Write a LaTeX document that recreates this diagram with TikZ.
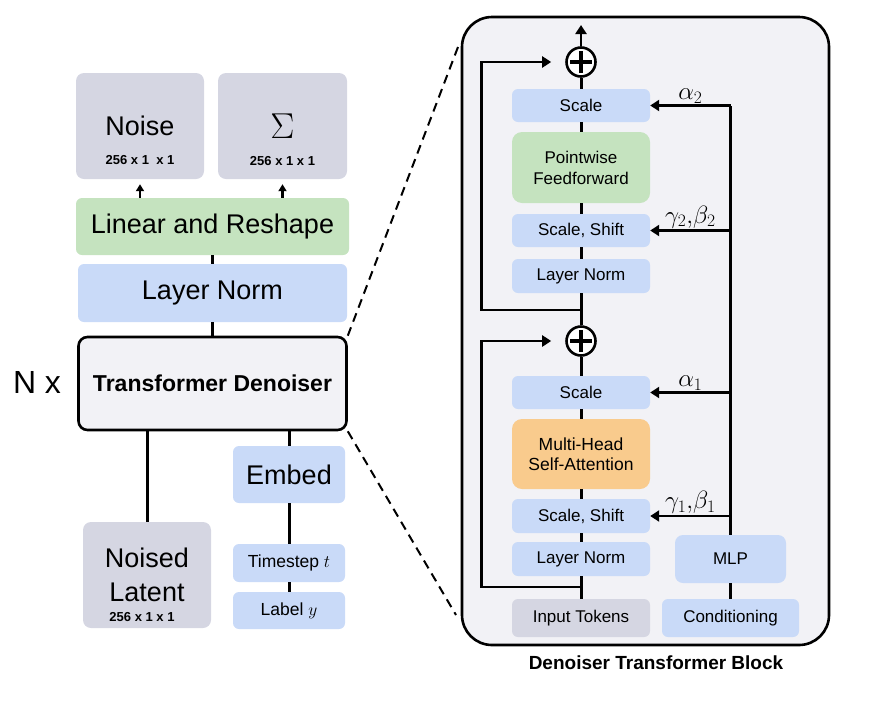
\RequirePackage{fix-cm}
\documentclass[tikz,border=0pt]{standalone}
\usepackage{fontspec}
\setmainfont{Liberation Sans}
\usepackage{tikz}
\usetikzlibrary{calc,positioning,arrows.meta,shapes}
\definecolor{graybox}{RGB}{213,214,226}
\definecolor{greenbox}{RGB}{197,227,191}
\definecolor{bluebox}{RGB}{201,218,248}
\definecolor{orangebox}{RGB}{249,203,141}
\definecolor{panelbg}{RGB}{242,242,246}
\tikzset{
  gbox/.style={rectangle, fill=graybox, rounded corners=8pt, inner sep=0pt},
  grbox/.style={rectangle, fill=greenbox, rounded corners=6pt, inner sep=0pt},
  blbox/.style={rectangle, fill=bluebox, rounded corners=6pt, inner sep=0pt},
  orbox/.style={rectangle, fill=orangebox, rounded corners=10pt, inner sep=0pt},
  bigtxt/.style={font=\fontsize{27}{34}\selectfont, align=center},
  smtxt/.style={font=\fontsize{17}{21}\selectfont, align=center},
  dims/.style={font=\bfseries\fontsize{13}{15}\selectfont, inner sep=0pt},
  mathlab/.style={font=\fontsize{25}{28}\selectfont, inner sep=1pt},
  colw/.style={minimum width=138pt},
  conn/.style={draw, line width=3pt},
  arr/.style={draw, line width=2.8pt, -{Triangle[length=9pt,width=11pt]}},
  smarr/.style={draw, line width=2.2pt, -{Triangle[length=7pt,width=8pt]}},
  dashline/.style={draw, line width=2pt, dash pattern=on 9pt off 6pt},
  plus/.style={circle, draw, line width=2.6pt, fill=white, minimum size=29pt, inner sep=0pt,
    path picture={\draw[line width=3.2pt]
      ([xshift=-11pt]path picture bounding box.center) -- ([xshift=11pt]path picture bounding box.center)
      ([yshift=-11pt]path picture bounding box.center) -- ([yshift=11pt]path picture bounding box.center);}},
}
\begin{document}
\begin{tikzpicture}[x=1pt, y=-1pt]
  \useasboundingbox (0,0) rectangle (869,710);

  %outputs
  \node[gbox, minimum width=128pt, minimum height=106pt, bigtxt] (noise) at (140,126) {Noise};
  \node[dims] (noisedim) at (140,160) {256 x 1\ \ x 1};
  \node[gbox, minimum width=129pt, minimum height=106pt, font=\fontsize{36}{40}\selectfont] (sigma) at (282.5,126) {$\Sigma$};
  \node[dims] (sigmadim) at (282.5,161) {256 x 1 x 1};
  \node[grbox, minimum width=273pt, minimum height=57pt, bigtxt] (linres) at (212.5,226.5) {Linear and Reshape};
  \node[blbox, minimum width=269pt, minimum height=58pt, bigtxt] (lnorm) at (212.5,293) {Layer Norm};

  %denoiser
  \node[rectangle, draw, line width=2.6pt, fill=panelbg, rounded corners=9pt, minimum width=268pt, minimum height=93pt,
        font=\bfseries\fontsize{23}{26}\selectfont] (tden) at (212.5,383.5) {Transformer Denoiser};
  \node[font=\fontsize{32}{36}\selectfont] (nx) at (37,382) {N x};

  %inputs
  \node[gbox, minimum width=128pt, minimum height=106pt, bigtxt] (nlat) at (147,575) {Noised\\Latent};
  \node[dims] (nlatdim) at (142,617) {256 x 1 x 1};
  \node[blbox, minimum width=112pt, minimum height=57pt, bigtxt] (embed) at (289,474.5) {Embed};
  \node[blbox, minimum width=112pt, minimum height=38pt, font=\fontsize{17.5}{21}\selectfont] (tstep) at (289,563) {Timestep $t$};
  \node[blbox, minimum width=112pt, minimum height=37pt, font=\fontsize{17.5}{21}\selectfont] (lab) at (289,610.5) {Label $y$};

  %block
  \node[rectangle, draw, line width=2.6pt, fill=panelbg, rounded corners=30pt, minimum width=367pt, minimum height=628pt] (panel) at (645.5,331) {};
  \node[font=\bfseries\fontsize{19}{22}\selectfont] (title) at (656,663) {Denoiser Transformer Block};
  \coordinate (dtop) at (458,47);
  \coordinate (dbot) at (456,615);

  %second half
  \node[plus] (plus2) at (581,62) {};
  \coordinate (outtop) at (581,25);
  \node[blbox, colw, minimum height=33pt, smtxt] (scale2) at (581,105.5) {Scale};
  \node[grbox, colw, minimum height=71pt, smtxt, rounded corners=10pt] (pff) at (581,167.5) {Pointwise\\Feedforward};
  \node[blbox, colw, minimum height=33pt, smtxt] (ss2) at (581,230.5) {Scale, Shift};
  \node[blbox, colw, minimum height=34pt, smtxt] (ln2) at (581,276) {Layer Norm};
  \coordinate (br2) at (581,310);

  %first half
  \node[plus] (plus1) at (581,341) {};
  \node[blbox, colw, minimum height=33pt, smtxt] (scale1) at (581,392.5) {Scale};
  \node[orbox, colw, minimum height=70pt, smtxt, font=\fontsize{17.5}{20}\selectfont] (mhsa) at (581,454) {Multi-Head\\Self-Attention};
  \node[blbox, colw, minimum height=34pt, smtxt] (ss1) at (581,516) {Scale, Shift};
  \node[blbox, colw, minimum height=34pt, smtxt] (ln1) at (581,559) {Layer Norm};
  \coordinate (br1) at (581,587);
  \node[gbox, colw, minimum height=38pt, smtxt, rounded corners=6pt] (tok) at (581,618) {Input Tokens};

  %conditioning
  \node[blbox, minimum width=137pt, minimum height=38pt, smtxt] (cond) at (730.5,618) {Conditioning};
  \node[blbox, minimum width=111pt, minimum height=48pt, smtxt, rounded corners=8pt] (mlp) at (730.5,559) {MLP};

  \path[conn]
    (lnorm) edge (linres)
    (tden.north) edge (lnorm.south)
    (tden.south -| nlat) edge (nlat.north)
    (tden.south -| embed) edge (embed.north)
    (embed) edge (tstep)
    (tstep) edge (lab);
  \draw[smarr, shorten >=5pt] (linres.north -| noise) -- (noise.south);
  \draw[smarr, shorten >=5pt] (linres.north -| sigma) -- (sigma.south);
  \path[dashline]
    (tden.north east) edge (dtop)
    (tden.south east) edge (dbot);

  %main column
  \path[conn]
    (tok) edge (ln1)
    (ln1) edge (ss1)
    (ss1) edge (mhsa)
    (mhsa) edge (scale1)
    (scale1) edge (plus1)
    (plus1) edge (ln2)
    (ln2) edge (ss2)
    (ss2) edge (pff)
    (pff) edge (scale2)
    (scale2) edge (plus2)
    (cond) edge (mlp)
    (mlp) edge (mlp.north |- scale2.east);
  \draw[arr] (plus2) -- (outtop);

  %residuals
  \draw[arr, shorten >=14pt] (br1) -- ++(-99.5,0) |- (plus1.west);
  \draw[arr, shorten >=14pt] (br2) -- ++(-99.5,0) |- (plus2.west);

  %modulation
  \draw[arr] (mlp.north |- scale2.east) -- node[mathlab, above] {$\alpha_2$} (scale2.east);
  \draw[arr] (mlp.north |- ss2.east) -- node[mathlab, above] {$\gamma_2,\!\beta_2$} (ss2.east);
  \draw[arr] (mlp.north |- scale1.east) -- node[mathlab, above] {$\alpha_1$} (scale1.east);
  \draw[arr] (mlp.north |- ss1.east) -- node[mathlab, above] {$\gamma_1,\!\beta_1$} (ss1.east);
\end{tikzpicture}
\end{document}
